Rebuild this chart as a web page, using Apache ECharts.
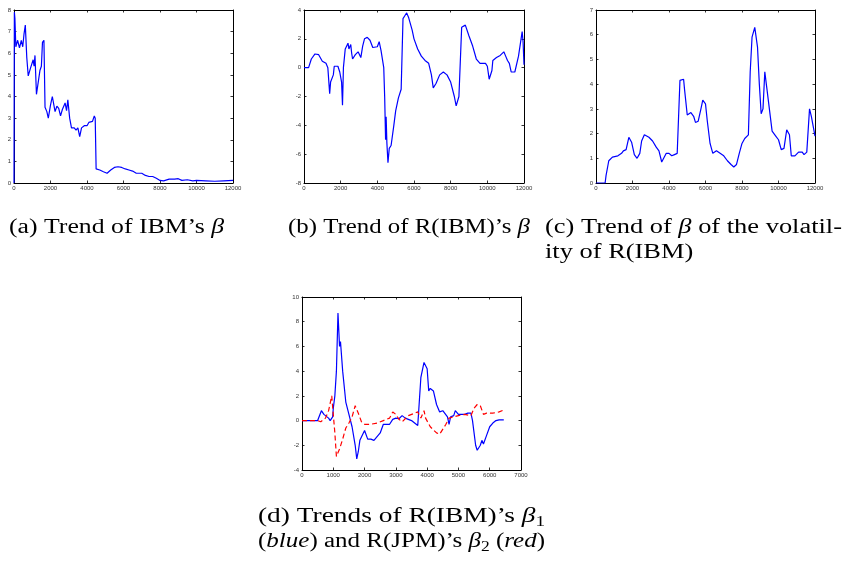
<!DOCTYPE html>
<html><head><meta charset="utf-8">
<script src="https://cdn.jsdelivr.net/npm/echarts@6/dist/echarts.min.js"></script>
<style>html,body{margin:0;padding:0;background:#fff}#c{width:844px;height:561px}</style>
</head><body><div id="c"></div>
<script>
// (a) Trend of IBM's beta
const aX = [0,20,50,100,200,300,400,480,550,620,700,780,900,1050,1100,1150,1230,1300,1420,1500,1560,1640,1700,1800,1880,2000,2100,2250,2350,2450,2550,2650,2800,2880,2950,3050,3150,3300,3400,3500,3600,3700,3850,4000,4100,4200,4300,4400,4450,4500,4700,4900,5100,5300,5500,5700,5900,6000,6100,6300,6500,6700,7000,7200,7400,7600,7800,8000,8200,8500,8800,9000,9200,9500,9800,10000,10500,11000,11500,12000];
const aY = [0,7.9,7.6,6.3,6.6,6.25,6.6,6.3,6.9,7.3,5.8,4.95,5.3,5.7,5.4,5.9,4.1,4.15,5.2,5.4,6.5,6.6,3.5,3.3,3.0,3.6,4.0,3.3,3.55,3.45,3.1,3.4,3.7,3.35,3.85,3.0,2.55,2.55,2.45,2.55,2.15,2.55,2.65,2.65,2.8,2.75,2.85,3.1,3.0,0.65,0.6,0.52,0.45,0.6,0.72,0.75,0.72,0.75,0.65,0.6,0.55,0.45,0.45,0.35,0.3,0.3,0.22,0.12,0.1,0.18,0.18,0.2,0.12,0.15,0.1,0.12,0.1,0.08,0.1,0.12];
// (b) Trend of R(IBM)'s beta
const bX = [0,250,400,600,800,1000,1200,1300,1400,1450,1550,1600,1650,1750,1850,1950,2050,2100,2150,2250,2350,2400,2450,2550,2600,2650,2800,2950,3050,3100,3200,3300,3450,3600,3750,3850,4000,4100,4200,4350,4400,4450,4480,4520,4580,4650,4750,4900,5000,5150,5300,5400,5500,5600,5700,5900,6000,6200,6400,6600,6800,6950,7050,7200,7400,7600,7800,8000,8200,8300,8450,8600,8800,9000,9200,9400,9600,9900,10000,10100,10250,10300,10500,10700,10900,11000,11100,11200,11300,11500,11700,11900,11950,12000];
const bY = [0,0,0.6,0.95,0.9,0.45,0.3,0,-1.8,-1.0,-0.9,-0.5,0.1,0.05,0.1,-0.3,-1.0,-2.6,0,1.3,1.4,1.7,1.3,1.6,1.0,0.6,0.9,1.1,1.05,0.7,1.5,2.0,2.1,1.9,1.4,1.3,1.45,1.8,1.2,0,-2,-5.0,-3.4,-5.2,-6.6,-5.6,-5.4,-4,-3,-2.1,-1.5,3.4,3.6,3.8,3.5,2.6,2.0,1.3,0.8,0.5,0.3,-0.5,-1.4,-1.1,-0.5,-0.3,-0.5,-1.0,-2.0,-2.65,-2.0,2.8,2.95,2.2,1.5,0.6,0.3,0.3,0.1,-0.8,-0.2,0.5,0.7,0.85,1.1,0.8,0.5,0.3,-0.3,-0.3,0.8,2.5,1.8,0.2];
// (c) Trend of beta of the volatility of R(IBM)
const cX = [0,500,550,700,900,1200,1400,1500,1650,1800,1950,2100,2250,2400,2500,2650,2900,3100,3300,3450,3600,3700,3850,4000,4150,4300,4450,4600,4700,4800,4850,5000,5100,5200,5350,5450,5600,5750,5850,6000,6100,6250,6400,6600,6800,7000,7200,7400,7550,7700,7850,8000,8150,8350,8450,8550,8700,8850,8950,9050,9150,9250,9350,9450,9650,9850,10000,10150,10300,10450,10600,10700,10900,11100,11300,11400,11550,11700,11800,11900,12000];
const cY = [0,0,0.3,0.9,1.05,1.1,1.2,1.3,1.35,1.85,1.65,1.15,1.0,1.2,1.7,1.95,1.85,1.7,1.45,1.3,0.85,0.9,1.2,1.2,1.1,1.15,1.2,4.15,4.1,4.2,3.8,2.75,2.8,2.85,2.7,2.45,2.5,3.0,3.35,3.2,2.5,1.6,1.2,1.3,1.2,1.1,0.9,0.75,0.65,0.75,1.2,1.6,1.8,1.95,4.5,5.9,6.3,5.5,4.0,2.8,3.0,4.5,3.9,3.9,2.1,1.9,1.75,1.35,1.4,2.15,1.95,1.1,1.1,1.25,1.25,1.15,1.25,3.0,2.7,2.75,1.9];
// (d) R(IBM)'s beta1 (blue) and R(JPM)'s beta2 (red)
const dBlueX = [0,500,620,700,850,900,980,1000,1050,1100,1150,1200,1230,1300,1400,1500,1600,1700,1750,1800,1850,1900,2000,2050,2100,2200,2300,2350,2500,2600,2800,2850,2900,3000,3100,3200,3300,3500,3600,3700,3800,3900,4000,4050,4100,4200,4300,4400,4500,4650,4700,4750,4850,4900,5000,5200,5300,5400,5450,5550,5600,5700,5750,5800,5900,6000,6100,6200,6300,6450];
const dBlueY = [0,0,0.8,0.5,0.2,0,0.3,1.0,2.0,4.0,8.7,6.0,6.4,4.0,1.5,0.5,-0.5,-2.0,-3.1,-2.5,-1.6,-1.5,-0.8,-0.7,-1.5,-1.5,-1.6,-1.7,-1.0,-0.3,-0.3,-0.4,0.1,0.2,0.15,0.4,0.2,0.0,-0.2,-0.4,3.5,4.7,4.2,2.4,2.6,2.4,1.3,0.7,0.8,0.3,-0.3,0.3,0.4,0.8,0.5,0.5,0.6,0.6,0.0,-2.0,-2.4,-2.0,-1.6,-1.9,-1.2,-0.5,-0.2,0.0,0.05,0.05];
const dRedX = [0,500,600,650,750,850,950,1000,1050,1100,1200,1300,1400,1500,1600,1700,1800,1900,2000,2200,2400,2600,2800,2900,3000,3100,3200,3400,3600,3700,3800,3900,3950,4100,4300,4400,4600,4700,4850,5000,5200,5400,5500,5600,5700,5800,5900,6100,6300,6450];
const dRedY = [0,0,-0.1,-0.2,0.2,0.8,2.0,0.5,-1.0,-2.9,-2.3,-1.5,-0.6,-0.2,0.3,1.2,0.6,-0.1,-0.3,-0.3,-0.2,0.0,0.2,0.7,0.5,0.1,-0.1,0.4,0.6,0.7,0.2,0.8,0.2,-0.5,-1.0,-1.1,-0.3,0.2,0.3,0.4,0.5,0.4,1.0,1.3,1.2,0.5,0.6,0.6,0.7,0.85];

// axis ranges / ticks
const aYTicks = {min:0, max:8, interval:1};
const bYTicks = {min:-8, max:4, interval:2};
const cYTicks = {min:0, max:7, interval:1};
const dYTicks = {min:-4, max:10, interval:2};
const abcXTicks = {min:0, max:12000, interval:2000};
const dXTicks = {min:0, max:7000, interval:1000};

// captions: [text, style] segments
const capA = [['(a) Trend of IBM\u2019s ','n'],['\u03B2','i']];
const capB = [['(b) Trend of R(IBM)\u2019s ','n'],['\u03B2','i']];
const capC1 = [['(c) Trend of ','n'],['\u03B2','i'],[' of the volatil-','n']];
const capC2 = [['ity of R(IBM)','n']];
const capD1 = [['(d) Trends of R(IBM)\u2019s ','n'],['\u03B2','i'],['1','s']];
const capD2 = [['(','n'],['blue','i'],[') and R(JPM)\u2019s ','n'],['\u03B2','i'],['2','s'],[' (','n'],['red','i'],[')','n']];

const zip = (xs, ys) => xs.map((x, i) => [x, ys[i]]);

const grids = [
  {left:14, top:10, width:219, height:173},
  {left:304, top:10, width:220, height:173},
  {left:596, top:10, width:219, height:173},
  {left:302, top:297, width:219, height:173}
];
const xT = [abcXTicks, abcXTicks, abcXTicks, dXTicks];
const yT = [aYTicks, bYTicks, cYTicks, dYTicks];

const lblStyle = {fontSize:6, color:'#333', fontFamily:'Liberation Sans', formatter: v => String(v)};
const line = {show:true, onZero:false, lineStyle:{color:'#000', width:1}};
const tick = {show:true, inside:true, length:2.5, lineStyle:{color:'#000', width:0.8}};

const xAxes = [], yAxes = [];
grids.forEach((g, i) => {
  xAxes.push(Object.assign({type:'value', gridIndex:i, position:'bottom', axisLine:line, axisTick:tick, splitLine:{show:false},
    axisLabel:Object.assign({margin:2, showMinLabel:true, showMaxLabel:true, hideOverlap:false}, lblStyle)}, xT[i]));
  xAxes.push(Object.assign({type:'value', gridIndex:i, position:'top', axisLine:line, axisTick:tick, splitLine:{show:false},
    axisLabel:{show:false}}, xT[i]));
  yAxes.push(Object.assign({type:'value', gridIndex:i, position:'left', axisLine:line, axisTick:tick, splitLine:{show:false},
    axisLabel:Object.assign({margin:3, showMinLabel:true, showMaxLabel:true}, lblStyle)}, yT[i]));
  yAxes.push(Object.assign({type:'value', gridIndex:i, position:'right', axisLine:line, axisTick:tick, splitLine:{show:false},
    axisLabel:{show:false}}, yT[i]));
});

const mk = (data, gi, color, dashed) => ({type:'line', data, xAxisIndex:gi*2, yAxisIndex:gi*2, showSymbol:false, symbol:'none',
  lineStyle:{color, width:1.2, type: dashed ? [5,3] : 'solid'}, silent:true, animation:false});

// captions built via canvas measurement
const FONT = 'Liberation Serif';
const FS = 20;
const ctx = document.createElement('canvas').getContext('2d');
function segFont(k){ return (k==='i' ? 'italic ' : '') + (k==='s' ? 14 : FS) + 'px "' + FONT + '"'; }
function measure(segs){ let w=0; segs.forEach(s=>{ctx.font=segFont(s[1]); w+=ctx.measureText(s[0]).width;}); return w; }
// [segments, left, right (or null to reuse previous scale), centre y]
const captionLayout = [
  [capA, 9, 224, 228],
  [capB, 288, 530, 228],
  [capC1, 545, 842, 228],
  [capC2, 545, null, 253],
  [capD1, 258, 545, 517],
  [capD2, 258, 545, 542]
];
const graphics = [];
let lastSc = 1;
captionLayout.forEach(([segs, x0, x1, y]) => {
  const w = measure(segs);
  const sc = x1 == null ? lastSc : (x1 - x0) / w;
  lastSc = sc;
  let cx = 0;
  segs.forEach(s => {
    ctx.font = segFont(s[1]);
    const sw = ctx.measureText(s[0]).width;
    graphics.push({type:'text', x: x0 + cx*sc, y: y + (s[1]==='s' ? 5 : 0), scaleX: sc, silent:true,
      style:{text:s[0], font:segFont(s[1]), fill:'#000', verticalAlign:'middle', align:'left'}});
    cx += sw;
  });
});

const chart = echarts.init(document.getElementById('c'), null, {renderer:'canvas'});
chart.setOption({
  animation:false,
  backgroundColor:'#fff',
  grid: grids,
  xAxis: xAxes,
  yAxis: yAxes,
  series: [
    mk(zip(aX, aY), 0, '#0000ff'),
    mk(zip(bX, bY), 1, '#0000ff'),
    mk(zip(cX, cY), 2, '#0000ff'),
    mk(zip(dBlueX, dBlueY), 3, '#0000ff'),
    mk(zip(dRedX, dRedY), 3, '#ff0000', true)
  ],
  graphic: graphics
});
</script></body></html>
